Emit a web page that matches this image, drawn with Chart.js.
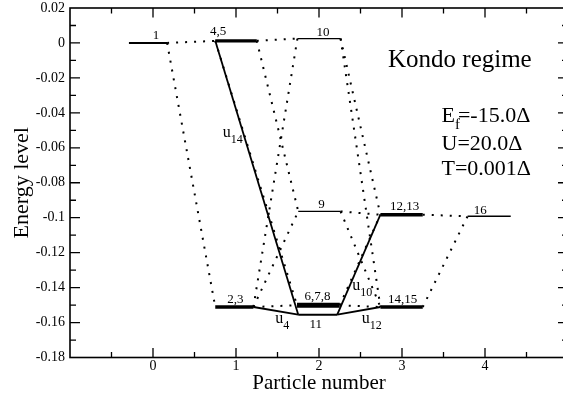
<!DOCTYPE html>
<html>
<head>
<meta charset="utf-8">
<script src="https://cdn.jsdelivr.net/npm/chart.js@4.4.1/dist/chart.umd.min.js"></script>
<style>
  html, body { margin: 0; padding: 0; background: #fff; overflow: hidden; }
  #wrap { width: 570px; height: 399px; }
</style>
</head>
<body>
<div id="wrap"><canvas id="levels" width="570" height="399"></canvas></div>
<script>
// many-body levels, grouped by particle number
const levelNames  = ["1", "2,3", "4,5", "6,7,8", "9", "10", "11", "12,13", "14,15", "16"];
const levelEnergy = [0.0, -0.1511, 0.0012, -0.1501, -0.0964, 0.0025, -0.1555, -0.0983, -0.1511, -0.0992];
const levelStart  = [-0.29, 0.75, 0.75, 1.735, 1.75, 1.74, 1.75, 2.74, 2.74, 3.79];
const levelEnd    = [0.17, 1.21, 1.25, 2.25, 2.26, 2.26, 2.22, 3.25, 3.25, 4.31];

// allowed transitions: [level, end, level, end]
const dottedLinks = [
  ["1", "R", "4,5", "L"], ["1", "R", "2,3", "L"],
  ["4,5", "R", "10", "L"], ["4,5", "R", "9", "L"], ["4,5", "L", "6,7,8", "L"],
  ["2,3", "R", "6,7,8", "L"], ["2,3", "R", "9", "L"], ["2,3", "R", "10", "L"],
  ["9", "R", "12,13", "L"], ["9", "R", "14,15", "L"],
  ["10", "R", "12,13", "L"], ["10", "R", "14,15", "L"],
  ["6,7,8", "R", "12,13", "L"], ["6,7,8", "R", "14,15", "L"],
  ["12,13", "R", "16", "L"], ["14,15", "R", "16", "L"],
];
// u_i corrections onto level 11
const solidLinks = [
  ["4,5", "L", "11", "L"], ["2,3", "R", "11", "L"],
  ["11", "R", "12,13", "L"], ["11", "R", "14,15", "L"],
];
const solidLinkNames = ["14", "4", "10", "12"];

const xTicks = [0, 1, 2, 3, 4];
const yTicks = [0.02, 0, -0.02, -0.04, -0.06, -0.08, -0.1, -0.12, -0.14, -0.16, -0.18];

const FONT = "'Liberation Serif', 'Times New Roman', serif";

function endPoint(name, side) {
  const i = levelNames.indexOf(name);
  return { x: side === "L" ? levelStart[i] : levelEnd[i], y: levelEnergy[i] };
}

const lineWidthFor = { "1": 2, "11": 2, "9": 1.3, "10": 1.3, "16": 1.5 };

const datasets = [];
levelNames.forEach((name, i) => {
  const deg = name.split(",").length;
  datasets.push({
    data: [{ x: levelStart[i], y: levelEnergy[i] }, { x: levelEnd[i], y: levelEnergy[i] }],
    borderWidth: lineWidthFor[name] || (deg === 2 ? 3.4 : 5.2),
  });
});
solidLinks.forEach(l => {
  datasets.push({ data: [endPoint(l[0], l[1]), endPoint(l[2], l[3])], borderWidth: 1.8 });
});
dottedLinks.forEach(l => {
  datasets.push({ data: [endPoint(l[0], l[1]), endPoint(l[2], l[3])], borderWidth: 2, borderDash: [2, 7] });
});
datasets.forEach(d => {
  d.showLine = true;
  d.pointRadius = 0;
  d.borderColor = "#000";
  d.borderCapStyle = "butt";
});

// name offsets from level centre (dx) and baseline above/below level (dy), px
const tagOffset = {
  "1": [8, -4], "4,5": [-18, -6], "10": [4, -3], "9": [2, -3], "12,13": [3, -5],
  "16": [-9, -2], "2,3": [1, -3.5], "6,7,8": [-1, -5], "14,15": [1, -3.5], "11": [-2, 13],
};
// u labels: fraction along link, dx, dy
const uOffset = [[0.332, -20, 5.7], [0.5, -0.5, 11.8], [0.3, 2, 5.4], [0.5, 3, 11.8]];

const decorations = {
  id: "decorations",
  afterDraw(chart) {
    const { ctx, chartArea: a, scales: { x, y } } = chart;
    ctx.save();
    ctx.strokeStyle = "#000";
    ctx.fillStyle = "#000";

    // inward ticks on all four sides
    ctx.lineWidth = 1.3;
    ctx.beginPath();
    for (let k = -2; k <= 10; k++) {
      const v = k / 2, px = x.getPixelForValue(v);
      if (px <= a.left + 1 || px >= a.right - 1) continue;
      const len = k % 2 === 0 ? 9.5 : 5.5;
      ctx.moveTo(px, a.bottom); ctx.lineTo(px, a.bottom - len);
      ctx.moveTo(px, a.top); ctx.lineTo(px, a.top + len);
    }
    for (let k = -18; k <= 2; k++) {
      const v = k / 100, py = y.getPixelForValue(v);
      if (py <= a.top + 1 || py >= a.bottom - 1) continue;
      const len = k % 2 === 0 ? 10 : 6;
      ctx.moveTo(a.left, py); ctx.lineTo(a.left + len, py);
      ctx.moveTo(a.right, py); ctx.lineTo(a.right - len, py);
    }
    ctx.stroke();
    ctx.lineWidth = 1.6;
    ctx.strokeRect(a.left, a.top, a.right - a.left, a.bottom - a.top);

    // level names
    ctx.font = "13px " + FONT;
    ctx.textAlign = "center";
    ctx.textBaseline = "alphabetic";
    levelNames.forEach((name, i) => {
      const cx = (x.getPixelForValue(levelStart[i]) + x.getPixelForValue(levelEnd[i])) / 2;
      const cy = y.getPixelForValue(levelEnergy[i]);
      const o = tagOffset[name];
      ctx.fillText(name, cx + o[0], cy + o[1]);
    });

    // u_i labels along the solid links
    ctx.textAlign = "left";
    solidLinks.forEach((l, i) => {
      const p = endPoint(l[0], l[1]), q = endPoint(l[2], l[3]);
      const [t, dx, dy] = uOffset[i];
      const px = x.getPixelForValue(p.x + (q.x - p.x) * t) + dx;
      const py = y.getPixelForValue(p.y + (q.y - p.y) * t) + dy;
      ctx.font = "16px " + FONT;
      ctx.fillText("u", px, py);
      const w = ctx.measureText("u").width;
      ctx.font = "12px " + FONT;
      ctx.fillText(solidLinkNames[i], px + w, py + 6);
    });

    // regime and parameters
    ctx.font = "25px " + FONT;
    ctx.fillText("Kondo regime", a.left + 318, a.top + 59);
    ctx.font = "22px " + FONT;
    const ex = a.left + 371.5;
    ctx.fillText("E", ex, a.top + 114);
    const ew = ctx.measureText("E").width;
    ctx.font = "15px " + FONT;
    ctx.fillText("f", ex + ew, a.top + 121);
    ctx.font = "22px " + FONT;
    ctx.fillText("=-15.0\u0394", ex + ew + 3, a.top + 114);
    ctx.fillText("U=20.0\u0394", ex, a.top + 142);
    ctx.fillText("T=0.001\u0394", ex, a.top + 167);
    ctx.restore();
  },
};

new Chart(document.getElementById("levels").getContext("2d"), {
  type: "scatter",
  data: { datasets },
  options: {
    responsive: false,
    animation: false,
    devicePixelRatio: 1,
    layout: { padding: { top: 8, right: 2, left: 0, bottom: 0 } },
    plugins: { legend: { display: false }, tooltip: { enabled: false } },
    scales: {
      x: {
        type: "linear",
        min: -1,
        max: 5,
        afterBuildTicks: s => { s.ticks = xTicks.map(v => ({ value: v })); },
        afterFit: s => { s.height = 41.5; s.paddingLeft = 0; s.paddingRight = 0; },
        grid: { display: false, drawTicks: false },
        border: { display: false },
        ticks: { color: "#000", padding: 0, autoSkip: false, maxRotation: 0, font: { family: FONT, size: 14 } },
        title: { display: true, text: "Particle number", color: "#000", font: { family: FONT, size: 21 }, padding: { top: 0, bottom: 3 } },
      },
      y: {
        type: "linear",
        min: -0.18,
        max: 0.02,
        afterBuildTicks: s => { s.ticks = yTicks.map(v => ({ value: v })); },
        afterFit: s => { s.width = 70; s.paddingTop = 0; s.paddingBottom = 0; },
        grid: { display: false, drawTicks: false },
        border: { display: false },
        ticks: {
          color: "#000", padding: 5, autoSkip: false,
          font: { family: FONT, size: 14 },
          callback: v => String(parseFloat(Number(v).toFixed(2))),
        },
        title: { display: true, text: "Energy level", color: "#000", font: { family: FONT, size: 22 }, padding: { top: 9, bottom: 0 } },
      },
    },
  },
  plugins: [decorations],
});
</script>
</body>
</html>
